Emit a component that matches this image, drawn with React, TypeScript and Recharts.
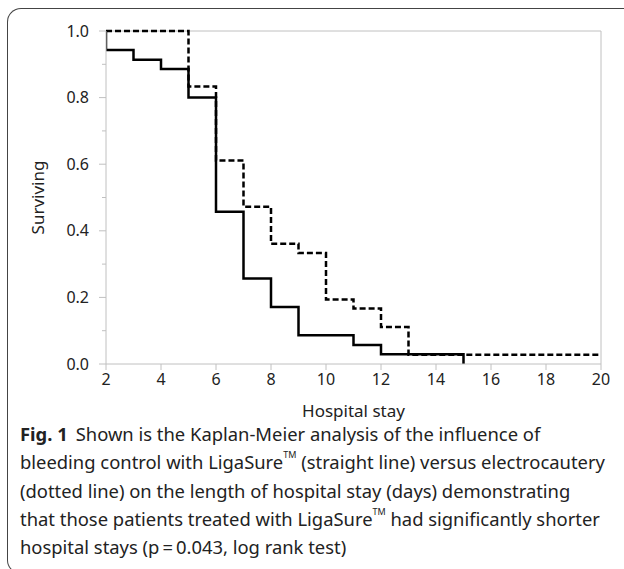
import React from 'react';
import {
  LineChart,
  Line,
  XAxis,
  YAxis,
  ReferenceLine
} from 'recharts';

// Kaplan-Meier steps
const ligaDays = [2, 2, 3, 4, 5, 6, 7, 8, 9, 11, 12, 15];
const ligaSurv = [1, 0.943, 0.914, 0.886, 0.8, 0.457, 0.257, 0.171, 0.086, 0.057, 0.029, 0];

const electroDays = [2, 5, 6, 7, 8, 9, 10, 11, 12, 13, 20];
const electroSurv = [1, 0.833, 0.611, 0.472, 0.361, 0.333, 0.194, 0.167, 0.111, 0.028, 0.028];

const xTicks = [2, 4, 6, 8, 10, 12, 14, 16, 18, 20];
const yTicks = [0, 0.1, 0.2, 0.3, 0.4, 0.5, 0.6, 0.7, 0.8, 0.9, 1.0];

const captionLines = [
  'Shown is the Kaplan-Meier analysis of the influence of',
  'bleeding control with LigaSure\u2122 (straight line) versus electrocautery',
  '(dotted line) on the length of hospital stay (days) demonstrating',
  'that those patients treated with LigaSure\u2122 had significantly shorter',
  'hospital stays (p\u2009=\u20090.043, log rank test)'
];

const ligaData = ligaDays.map((d, i) => ({ day: d, surv: ligaSurv[i] }));
const electroData = electroDays.map((d, i) => ({ day: d, surv: electroSurv[i] }));

const FONT = '"Noto Sans", "Open Sans", sans-serif';
const AXIS_GRAY = '#c0c0c0';

const YTick = (props: any) => {
  const { x, y, payload } = props;
  const v = payload.value as number;
  const major = Math.round(v * 10) % 2 === 0;
  return (
    <g>
      <line x1={x - (major ? 7 : 4)} x2={x} y1={y} y2={y} stroke={AXIS_GRAY} />
      {major && (
        <text x={x - 17} y={y} dy={5.5} textAnchor="end" fontSize={16} fill="#222" fontFamily={FONT}>
          {v.toFixed(1)}
        </text>
      )}
    </g>
  );
};

const renderTm = (line: string) => {
  const parts = line.split('\u2122');
  return parts.map((p, i) => (
    <React.Fragment key={i}>
      {p}
      {i < parts.length - 1 && (
        <sup style={{ fontSize: 9, verticalAlign: 'top', lineHeight: '14px' }}>TM</sup>
      )}
    </React.Fragment>
  ));
};

const App = () => {
  return (
    <div style={{ position: 'absolute', left: 0, top: 0, width: 624, height: 569, overflow: 'hidden', background: '#fff' }}>
      <div
        style={{
          position: 'absolute',
          left: 7,
          top: 8,
          width: 640,
          height: 566,
          borderTop: '1.5px solid #444',
          borderLeft: '1.5px solid #444',
          borderBottom: '1.5px solid #444',
          borderTopLeftRadius: 14,
          borderBottomLeftRadius: 14,
          boxSizing: 'border-box'
        }}
      />
      <div style={{ position: 'absolute', left: 0, top: 0 }}>
        <LineChart width={624} height={430} margin={{ top: 31, right: 23, left: 0, bottom: 0 }}>
          <XAxis
            dataKey="day"
            type="number"
            domain={[2, 20]}
            ticks={xTicks}
            allowDataOverflow
            axisLine={{ stroke: AXIS_GRAY }}
            tickLine={{ stroke: AXIS_GRAY }}
            tickSize={6}
            tickMargin={4}
            height={66}
            tick={{ fontSize: 16, fill: '#222', fontFamily: FONT }}
            label={{ value: 'Hospital stay', position: 'insideBottom', offset: 13, fontSize: 17, fill: '#222', fontFamily: FONT }}
          />
          <YAxis
            dataKey="surv"
            type="number"
            domain={[0, 1]}
            ticks={yTicks}
            width={106}
            axisLine={{ stroke: AXIS_GRAY }}
            tickLine={false}
            tickSize={0}
            tickMargin={0}
            tick={<YTick />}
            label={{ value: 'Surviving', angle: -90, position: 'insideLeft', offset: 38, fontSize: 17, fill: '#222', fontFamily: FONT, style: { textAnchor: 'middle' } }}
          />
          <ReferenceLine y={1} stroke={AXIS_GRAY} />
          <ReferenceLine x={20} stroke={AXIS_GRAY} />
          <Line
            data={ligaData}
            dataKey="surv"
            type="stepAfter"
            stroke="#000"
            strokeWidth={2.5}
            dot={false}
            activeDot={false}
            isAnimationActive={false}
          />
          <Line
            data={electroData}
            dataKey="surv"
            type="stepAfter"
            stroke="#000"
            strokeWidth={2.5}
            strokeDasharray="6 3"
            dot={false}
            activeDot={false}
            isAnimationActive={false}
          />
        </LineChart>
      </div>
      <div
        style={{
          position: 'absolute',
          left: 20,
          top: 420,
          fontFamily: FONT,
          fontSize: 18.4,
          lineHeight: '28.3px',
          color: '#222',
          whiteSpace: 'nowrap'
        }}
      >
        {captionLines.map((l, i) => (
          <div key={i}>
            {i === 0 && <b style={{ marginRight: 8 }}>Fig. 1</b>}
            {renderTm(l)}
          </div>
        ))}
      </div>
    </div>
  );
};

export default App;
